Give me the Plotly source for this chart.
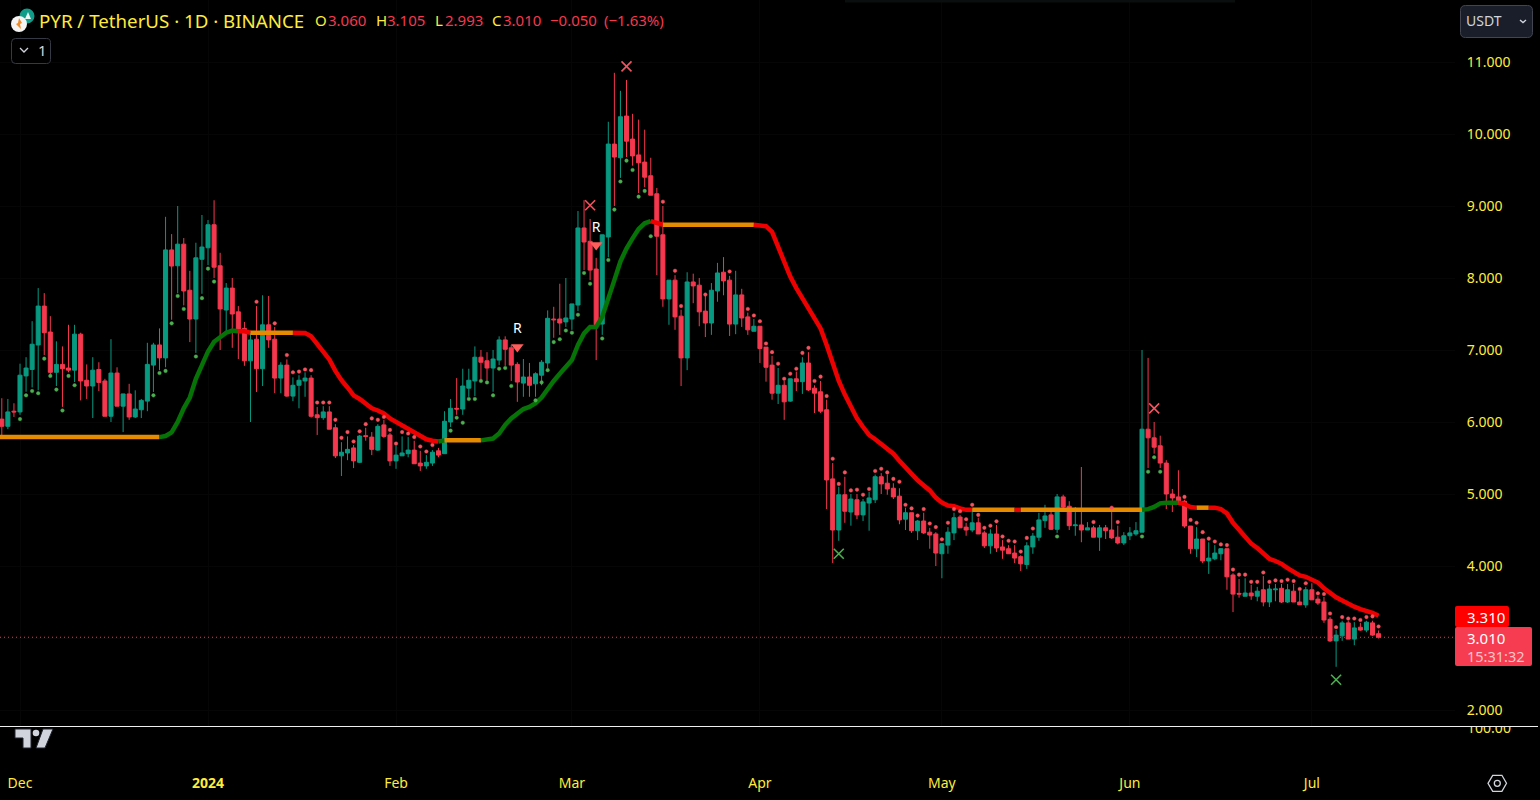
import pandas as pd
import plotly.graph_objects as go

W, H = 1540, 800
PLOT_R, PANE_T, PANE_B = 1455, 726, 768
PX_PER_DAY = 6.065

opens = [6.04,5.94,6.15,6.14,6.64,6.73,7.07,7.61,7.25,6.69,
6.80,6.75,6.72,7.22,6.58,6.50,6.73,6.57,6.08,6.68,
6.22,6.39,6.07,6.17,6.29,6.79,7.07,6.89,8.39,8.17,
8.47,7.83,7.43,8.26,8.42,8.74,8.17,7.555,7.86,7.53,
7.30,6.85,7.15,6.74,7.35,7.15,6.61,6.79,6.36,6.51,
6.57,6.61,6.10,6.06,6.14,5.92,5.53,5.57,5.64,5.44,
5.81,5.79,5.61,5.96,5.82,5.46,5.53,5.56,5.61,5.43,
5.39,5.43,5.60,5.56,6.00,6.19,6.18,6.47,6.57,6.90,
6.85,6.75,6.86,7.14,7.03,6.80,6.54,6.625,6.53,6.65,
6.82,7.43,7.43,7.39,7.43,7.625,8.695,8.51,8.125,7.36,
8.57,9.86,9.67,10.25,9.93,9.71,9.61,9.42,9.17,8.60,
7.71,7.97,7.47,6.89,7.945,7.90,7.54,7.375,7.82,8.08,
7.97,7.36,7.765,7.46,7.26,7.33,7.04,6.79,6.40,6.51,
6.29,6.60,6.56,6.82,6.47,6.42,6.17,5.21,4.50,4.99,
4.75,4.92,4.71,4.875,4.92,5.24,5.15,5.08,4.97,4.65,
4.74,4.49,4.625,4.47,4.445,4.17,4.29,4.46,4.68,4.54,
4.50,4.60,4.46,4.28,4.445,4.265,4.24,4.18,4.13,4.02,
4.265,4.40,4.63,4.71,4.51,4.96,4.83,4.56,4.57,4.50,
4.53,4.40,4.53,4.50,4.40,4.32,4.42,4.445,4.47,5.90,
5.78,5.67,5.43,5.00,4.96,4.90,4.555,4.24,4.375,4.07,
4.10,4.17,4.24,3.875,3.62,3.58,3.625,3.58,3.67,3.50,
3.67,3.69,3.50,3.65,3.50,3.46,3.67,3.54,3.50,3.26,
2.96,3.03,3.21,2.985,3.15,3.11,3.21,3.06]

closes = [5.94,6.14,6.14,6.65,6.75,7.08,7.61,7.24,6.69,6.80,
6.74,6.72,7.22,6.57,6.50,6.72,6.55,6.08,6.68,6.22,
6.39,6.07,6.18,6.30,6.80,7.07,6.89,8.39,8.166,8.47,
7.82,7.43,8.28,8.43,8.74,8.15,7.57,7.86,7.50,7.29,
6.85,7.14,6.74,7.35,7.14,6.61,6.79,6.36,6.51,6.58,
6.61,6.08,6.06,6.14,5.90,5.53,5.58,5.62,5.46,5.805,
5.80,5.62,5.94,5.80,5.46,5.54,5.57,5.61,5.42,5.39,
5.44,5.58,5.54,6.01,6.19,6.18,6.50,6.58,6.90,6.83,
6.75,6.875,7.14,7.01,6.79,6.555,6.625,6.51,6.67,6.83,
7.44,7.42,7.375,7.445,7.64,8.695,8.50,8.11,7.35,8.60,
9.86,9.68,10.24,9.90,9.695,9.60,9.40,9.15,8.58,7.71,
7.97,7.46,6.89,7.945,7.89,7.53,7.375,7.83,8.07,7.96,
7.36,7.765,7.445,7.28,7.33,7.02,6.76,6.40,6.51,6.28,
6.60,6.56,6.82,6.445,6.40,6.15,5.195,4.50,4.99,4.76,
4.93,4.71,4.89,4.945,5.24,5.14,5.07,4.96,4.64,4.74,
4.49,4.625,4.46,4.43,4.18,4.31,4.47,4.67,4.53,4.50,
4.60,4.445,4.28,4.445,4.25,4.22,4.17,4.11,4.03,4.28,
4.415,4.64,4.695,4.51,4.96,4.82,4.56,4.57,4.50,4.53,
4.40,4.53,4.49,4.39,4.32,4.42,4.46,4.49,5.90,5.78,
5.65,5.43,5.00,4.945,4.875,4.555,4.24,4.375,4.07,4.11,
4.18,4.24,3.85,3.61,3.61,3.625,3.585,3.65,3.50,3.68,
3.68,3.50,3.67,3.50,3.46,3.67,3.53,3.486,3.25,2.96,
3.04,3.21,2.985,3.14,3.11,3.22,3.04,3.01]

highs = [6.33,6.32,6.26,6.81,6.90,7.40,7.86,7.79,7.47,7.12,
7.05,7.35,7.35,7.24,6.80,6.90,6.83,6.60,7.15,6.76,
6.39,6.53,6.44,6.32,7.10,7.10,7.30,8.85,8.61,9.00,
8.555,8.10,8.49,8.875,8.805,9.08,8.35,7.93,8.00,7.61,
7.39,7.24,7.61,7.76,7.75,7.32,6.83,6.87,6.62,6.65,
6.69,6.65,6.21,6.22,6.22,5.97,5.72,5.80,5.68,5.82,
5.92,5.86,5.97,6.03,5.85,5.67,5.80,5.79,5.74,5.60,
5.54,5.61,5.64,6.15,6.32,6.61,6.74,6.74,7.05,7.00,
6.97,7.00,7.19,7.19,7.07,6.83,6.875,6.82,6.69,6.86,
7.55,7.60,7.92,8.00,7.64,8.93,9.08,8.82,8.28,8.60,
10.17,10.85,10.60,10.75,10.28,10.20,10.06,9.67,9.25,9.00,
7.97,8.04,7.56,8.08,8.06,8.00,7.76,7.93,8.21,8.29,
8.03,8.10,7.85,7.52,7.43,7.33,7.04,6.92,6.75,6.57,
6.60,6.70,6.90,6.97,6.51,6.57,6.31,5.43,5.10,5.24,
5.00,5.00,4.93,5.03,5.27,5.29,5.27,5.15,5.08,4.81,
4.74,4.64,4.74,4.53,4.47,4.32,4.54,4.74,4.71,4.60,
4.79,4.67,4.49,4.51,4.57,4.36,4.29,4.29,4.15,4.33,
4.46,4.74,4.85,4.76,5.00,4.99,4.90,4.82,5.375,4.61,
4.56,4.57,4.57,4.82,4.56,4.47,4.54,4.61,7.00,6.89,
6.00,5.81,5.47,5.07,5.33,4.92,4.555,4.54,4.375,4.33,
4.29,4.25,4.24,3.90,3.82,3.83,3.74,3.71,3.86,3.74,
3.75,3.75,3.75,3.75,3.65,3.71,3.76,3.58,3.57,3.29,
3.11,3.24,3.24,3.22,3.21,3.24,3.24,3.105]

lows = [5.78,5.90,6.07,6.10,6.42,6.48,6.44,6.93,6.66,6.50,
6.21,6.69,6.555,6.30,6.32,6.055,6.43,6.08,6.00,6.22,
5.86,6.03,6.055,6.055,6.15,6.417,6.72,6.76,7.42,7.79,
7.62,7.11,6.96,7.78,8.18,8.00,7.00,7.25,7.03,6.875,
6.78,6.00,6.417,6.50,7.03,6.40,6.40,6.35,6.29,6.19,
6.35,6.06,5.82,6.03,5.90,5.50,5.25,5.47,5.36,5.43,
5.74,5.54,5.60,5.78,5.39,5.35,5.53,5.51,5.42,5.32,
5.35,5.39,5.51,5.56,5.93,6.10,6.10,6.35,6.36,6.58,
6.58,6.42,6.79,6.78,6.57,6.28,6.35,6.35,6.35,6.51,
6.75,7.17,7.21,7.32,7.28,7.54,8.11,7.97,6.86,7.21,
8.29,9.00,9.39,9.68,9.56,9.18,9.26,9.15,8.04,7.60,
7.35,7.28,6.50,6.72,7.65,7.33,7.18,7.21,7.67,7.76,
7.195,7.22,7.32,7.21,7.26,6.82,6.56,6.31,6.25,6.03,
6.28,6.43,6.39,6.43,6.125,6.125,4.79,4.04,4.35,4.60,
4.56,4.65,4.625,4.49,4.875,5.00,4.99,4.93,4.58,4.50,
4.46,4.36,4.445,4.24,4.00,3.83,4.17,4.36,4.53,4.42,
4.47,4.445,4.25,4.17,4.195,4.10,4.17,4.04,3.93,3.96,
4.17,4.35,4.53,4.50,4.46,4.78,4.50,4.42,4.33,4.50,
4.40,4.21,4.375,4.375,4.30,4.29,4.36,4.42,4.47,5.36,
5.56,5.36,4.79,4.75,4.85,4.53,4.17,4.125,4.04,3.89,
4.08,4.08,3.67,3.36,3.56,3.58,3.53,3.51,3.44,3.43,
3.51,3.486,3.486,3.50,3.46,3.42,3.53,3.46,3.21,2.945,
2.60,2.96,2.985,2.90,3.10,3.08,3.03,2.993]

# the indicator line starts one bar earlier than the first visible candle
trend = ([5.79]*28 + [5.805,5.855,6.0,6.19,6.34,6.60,6.78,6.98,7.115,7.175,7.24,7.27,7.26,7.26]
 + [7.24]*9 + [7.235,7.19,7.09,6.99,6.87,6.71,6.58,6.48,6.37,6.32,6.26,6.19,6.16,6.12,6.05,6.0,5.95,5.91,5.85,5.80,5.76,5.74,5.73]
 + [5.745]*7 + [5.75,5.77,5.84,5.96,6.05,6.11,6.18,6.21,6.26,6.34,6.46,6.57,6.67,6.76,6.86,7.07,7.23,7.32,7.32,7.46,7.74,7.97,8.23,8.41,8.55,8.68,8.76,8.79,8.77]
 + [8.74]*16 + [8.73,8.72,8.64,8.43,8.20,8.02,7.86,7.72,7.58,7.44,7.30,7.07,6.80,6.57,6.38,6.21,6.05,5.93,5.82,5.76,5.69,5.63,5.56,5.46,5.38,5.28,5.19,5.12,5.05,4.95,4.88,4.84,4.83,4.80,4.78]
 + [4.78]*29 + [4.79,4.82,4.87,4.88,4.885,4.88,4.86,4.82,4.81,4.81,4.81,4.81,4.79,4.73,4.60,4.50,4.40,4.31,4.25,4.17,4.10,4.07,4.03,3.97,3.92,3.87,3.85,3.805,3.77,3.69,3.62,3.565,3.52,3.47,3.435,3.40,3.38,3.35,3.31])

trend_run_colors = ["orange","green","red","orange","red","green","orange","green","red","orange","red","orange","red","orange","green","red","orange","red"]
trend_run_ends = [27,40,42,49,73,74,80,108,110,125,161,168,169,189,195,198,200,228]

green_dot_days = [3,4,5,6,7,8,9,10,11,12,25,26,27,28,29,30,32,33,34,35,74,75,76,77,78,79,80,81,82,83,84,88,89,90,91,92,93,94,95,96,97,99,100,101,102,103,104,105,106,107,174,188,189,190,191]
green_dot_vals = [6.04,6.37,6.43,6.40,6.88,6.64,6.45,6.16,6.64,6.51,6.37,6.68,6.71,7.37,7.75,7.57,6.91,7.72,8.13,7.95,5.88,6.06,5.99,6.32,6.32,6.57,6.55,6.37,6.74,6.75,6.50,6.30,6.55,6.72,7.11,7.15,7.27,7.24,7.49,8.07,7.92,7.16,8.25,8.95,9.34,9.63,9.50,9.13,9.21,8.58,4.41,4.41,5.31,5.51,5.31]

red_dot_days = [42,45,47,48,49,50,51,52,53,54,55,56,57,58,59,60,61,62,63,64,65,66,67,68,69,70,71,109,111,112,116,120,123,124,125,126,127,128,129,130,131,132,133,134,135,136,137,138,139,140,141,142,143,144,145,146,147,148,149,150,151,152,153,154,155,156,157,158,159,160,161,162,163,164,165,166,167,168,169,170,180,183,184,195,196,197,198,199,200,201,202,203,204,205,206,207,208,209,210,211,212,213,214,215,217,218,219,220,221,222,223,224,225,226,227]
red_dot_vals = [7.67,7.37,6.93,6.69,6.70,6.73,6.72,6.27,6.27,6.27,6.03,5.78,5.86,5.73,5.87,5.97,6.05,6.03,6.07,5.89,5.70,5.86,5.84,5.79,5.66,5.59,5.68,9.06,8.10,7.61,7.77,8.09,7.57,7.48,7.40,7.09,6.97,6.81,6.60,6.67,6.74,6.96,7.03,6.57,6.63,6.36,5.49,5.14,5.30,5.05,5.06,4.99,5.07,5.32,5.35,5.30,5.21,5.17,4.85,4.80,4.70,4.79,4.59,4.54,4.37,4.60,4.79,4.76,4.65,4.85,4.71,4.53,4.56,4.62,4.41,4.35,4.34,4.20,4.39,4.52,4.61,4.81,4.61,4.96,4.64,4.60,4.47,4.38,4.34,4.30,4.29,3.95,3.88,3.88,3.78,3.78,3.91,3.78,3.80,3.79,3.81,3.79,3.68,3.76,3.62,3.61,3.34,3.15,3.29,3.27,3.27,3.25,3.29,3.30,3.16]

red_cross_days = [97,103,190]
red_cross_vals = [9.01,10.94,6.19]
green_cross_days = [138,220]
green_cross_vals = [4.17,2.42]
reversal_days = [85,98]
reversal_vals = [7.04,8.46]
reversal_label_vals = [7.28,8.69]

price_ticks = [2,3,4,5,6,7,8,9,10,11]
month_ticks = ["2023-12-01","2024-01-01","2024-02-01","2024-03-01","2024-04-01","2024-05-01","2024-06-01","2024-07-01"]
month_labels = ["Dec","<b>2024</b>","Feb","Mar","Apr","May","Jun","Jul"]
last_close = 3.01

dates = pd.date_range("2023-11-28", periods=len(opens), freq="D")
trend_dates = pd.date_range("2023-11-27", periods=len(trend), freq="D")
YEL, RED, GRN, GREY = "#ffeb3b", "#f5384e", "#089981", "#d1d4dc"
TREND = {"orange":"#e68a00","green":"#067306","red":"#ee0000"}
FONT = "Noto Sans"

t0 = pd.Timestamp("2023-12-01") - pd.Timedelta(days=20/PX_PER_DAY)
t_plot = t0 + pd.Timedelta(days=PLOT_R/PX_PER_DAY)
t_full = t0 + pd.Timedelta(days=W/PX_PER_DAY)

fig = go.Figure()
start = 0
for col, end in zip(trend_run_colors, trend_run_ends):
    fig.add_trace(go.Scatter(x=trend_dates[start:end+1], y=trend[start:end+1], mode="lines",
                             line=dict(color=TREND[col], width=4.5), hoverinfo="skip"))
    start = end

fig.add_trace(go.Candlestick(x=dates, open=opens, high=highs, low=lows, close=closes,
    increasing=dict(line=dict(color=GRN, width=1), fillcolor=GRN),
    decreasing=dict(line=dict(color=RED, width=1), fillcolor=RED), whiskerwidth=0))

fig.add_trace(go.Scatter(x=dates[green_dot_days], y=green_dot_vals, mode="markers",
    marker=dict(color="#4caf50", size=3.6, line=dict(width=1, color="rgba(76,175,80,0.4)"))))
fig.add_trace(go.Scatter(x=dates[red_dot_days], y=red_dot_vals, mode="markers",
    marker=dict(color="#f7525f", size=3.6, line=dict(width=1, color="rgba(247,82,95,0.4)"))))
fig.add_trace(go.Scatter(x=dates[red_cross_days], y=red_cross_vals, mode="markers",
    marker=dict(symbol="x-thin", size=10, line=dict(color="#f7525f", width=1.6))))
fig.add_trace(go.Scatter(x=dates[green_cross_days], y=green_cross_vals, mode="markers",
    marker=dict(symbol="x-thin", size=10, line=dict(color="#4caf50", width=1.6))))
fig.add_trace(go.Scatter(x=dates[reversal_days], y=reversal_vals, mode="markers",
    marker=dict(symbol="triangle-down", size=11, color="#ff5c5c", line=dict(width=0))))
fig.add_trace(go.Scatter(x=dates[reversal_days], y=reversal_label_vals, mode="text",
    text=["R","R"], textfont=dict(color="#ffffff", size=14, family=FONT)))
# clipped label of the lower pane's axis
fig.add_trace(go.Scatter(x=[t0 + pd.Timedelta(days=1489/PX_PER_DAY)], y=[100], mode="text",
    text=["100.00"], textfont=dict(color=YEL, size=14, family=FONT), xaxis="x2", yaxis="y2", cliponaxis=True))

def px(x): return x / W
def py(y): return 1 - y / H

def path_of(points):
    return "M " + " L ".join(f"{px(a):.5f},{py(b):.5f}" for a, b in points) + " Z"

def rrect(x0, y0, x1, y1, r):
    pts = f"M {px(x0+r):.5f},{py(y0):.5f} L {px(x1-r):.5f},{py(y0):.5f} Q {px(x1):.5f},{py(y0):.5f} {px(x1):.5f},{py(y0+r):.5f} "
    pts += f"L {px(x1):.5f},{py(y1-r):.5f} Q {px(x1):.5f},{py(y1):.5f} {px(x1-r):.5f},{py(y1):.5f} "
    pts += f"L {px(x0+r):.5f},{py(y1):.5f} Q {px(x0):.5f},{py(y1):.5f} {px(x0):.5f},{py(y1-r):.5f} "
    pts += f"L {px(x0):.5f},{py(y0+r):.5f} Q {px(x0):.5f},{py(y0):.5f} {px(x0+r):.5f},{py(y0):.5f} Z"
    return pts

def poly(points, fill="rgba(0,0,0,0)", line=None, width=1, close=True):
    p = path_of(points)
    if not close:
        p = p[:-2]
    return dict(type="path", xref="paper", yref="paper", path=p, fillcolor=fill,
                line=dict(color=line or "rgba(0,0,0,0)", width=width))

def rect(x0, y0, x1, y1, fill, line=None, r=0, width=1):
    return dict(type="path", xref="paper", yref="paper", path=rrect(x0, y0, x1, y1, r) if r else path_of([(x0,y0),(x1,y0),(x1,y1),(x0,y1)]),
                fillcolor=fill, line=dict(color=line or "rgba(0,0,0,0)", width=width))

def circ(cx, cy, r, fill, line=None, width=1):
    return dict(type="circle", xref="paper", yref="paper", x0=px(cx-r), x1=px(cx+r), y0=py(cy+r), y1=py(cy-r),
                fillcolor=fill, line=dict(color=line or "rgba(0,0,0,0)", width=width))

shapes = [
    dict(type="line", xref="x", yref="y", x0=t0, x1=t_plot, y0=last_close, y1=last_close,
         line=dict(color=RED, width=1, dash="1px,3px")),
    rect(845, 0, 1235, 2.5, "#0b0e0e"),
    dict(type="line", xref="paper", yref="paper", x0=0, x1=px(1538), y0=py(726.5), y1=py(726.5),
         line=dict(color="#eeeeee", width=1)),
    # coin icons
    circ(27, 16, 7.5, "#0f9d8a"),
    poly([(25,19),(28,12),(31,19)], fill="#e8f5f2"),
    circ(19, 24, 8, "#f4f4f4"),
    poly([(19,18),(22,23),(20,24),(21,29),(16,24),(18,23)], fill="#f08a24"),
    # collapse button
    rect(11.5, 38.5, 50.5, 63.5, "#000000", "#363a45", r=4),
    poly([(20,48),(24,52),(28,48)], line=GREY, width=1.3, close=False),
    # currency button
    rect(1460.5, 5.5, 1532.5, 37.5, "#1a1e2b", "#434651", r=5),
    poly([(1520,20),(1523,22.5),(1526,20)], line=GREY, width=1.4, close=False),
    # last value flags
    rect(1455, 606, 1509, 627, "#ff0000", r=2),
    rect(1455, 627, 1532, 666, "#f63c50", r=2),
    # logo
    poly([(15,729),(31,729),(31,748),(23,748),(23,738),(15,738)], fill=GREY, line="#1e222d", width=1),
    circ(36, 733, 3.3, GREY),
    poly([(43,729),(53,729),(45,748),(36,748)], fill=GREY, line="#1e222d", width=1),
    # settings glyph
    poly([(1488,783.3),(1492.7,775.3),(1501.9,775.3),(1506.5,783.3),(1501.9,791.3),(1492.7,791.3)], line=GREY, width=1.3),
    circ(1497.3, 783.3, 3, "rgba(0,0,0,0)", GREY, 1.3),
]

def label(x, y, text, color, size=15, anchor="left"):
    return dict(xref="paper", yref="paper", x=px(x), y=py(y), text=text, showarrow=False,
                xanchor=anchor, yanchor="middle", align=anchor, font=dict(color=color, size=size, family=FONT),
                borderpad=0, borderwidth=0)

annotations = [
    label(39, 20, "PYR / TetherUS · 1D · BINANCE", YEL, 18.7),
    label(315, 20, "O", YEL), label(328, 20, "3.060", RED),
    label(376, 20, "H", YEL), label(387, 20, "3.105", RED),
    label(435, 20, "L", YEL), label(445, 20, "2.993", RED),
    label(492, 20, "C", YEL), label(503, 20, "3.010", RED),
    label(550, 20, "−0.050", RED),
    label(604, 20, "(−1.63%)", RED),
    label(38, 50, "1", GREY, 15),
    label(1466, 20, "USDT", GREY, 14),
    label(1467, 617, "3.310", "#ffffff", 15),
    label(1467, 638, "3.010", "#ffffff", 15),
    label(1467, 656, "15:31:32", "#fbc4cb", 14.5),
]

fig.update_layout(
    width=W, height=H, margin=dict(l=0, r=0, t=0, b=0), autosize=False,
    paper_bgcolor="#000000", plot_bgcolor="#000000", showlegend=False,
    boxgap=0.05,
    shapes=shapes, annotations=annotations,
    font=dict(family=FONT, color=YEL, size=14),
    xaxis=dict(domain=[0, PLOT_R/W], range=[t0, t_plot], type="date", anchor="y", rangeslider=dict(visible=False),
               tickvals=month_ticks, showticklabels=False, showgrid=True, gridcolor="#060606", zeroline=False,
               showline=False, ticks=""),
    yaxis=dict(domain=[1-PANE_T/H, 1], range=[11-(PANE_T-62)/72, 11+62/72], side="right", anchor="x",
               tickvals=price_ticks, tickformat=".3f", ticks="outside", ticklen=8, tickcolor="#000000",
               showgrid=True, gridcolor="#060606", zeroline=False, showline=False,
               tickfont=dict(color=YEL, size=14, family=FONT)),
    xaxis2=dict(domain=[0, 1], range=[t0, t_full], type="date", anchor="y2", tickvals=month_ticks, ticktext=month_labels,
                showgrid=False, zeroline=False, showline=False, ticks="outside", ticklen=2, tickcolor="#000000",
                tickfont=dict(color=YEL, size=14, family=FONT), tickangle=0),
    yaxis2=dict(domain=[1-PANE_B/H, 1-PANE_T/H], range=[100-38.5, 103.5], anchor="x2", visible=False),
)

fig.write_html("out.html", config=dict(displayModeBar=False),
               post_script="document.body.style.margin='0';document.body.style.background='#000';document.body.style.overflow='hidden';")
